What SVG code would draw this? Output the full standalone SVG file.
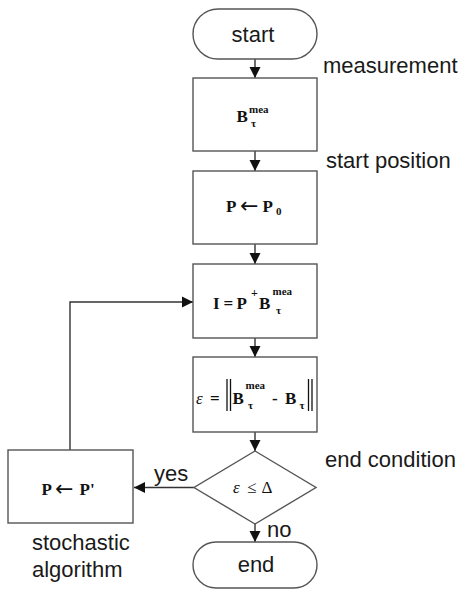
<svg xmlns="http://www.w3.org/2000/svg" width="462" height="590" viewBox="0 0 462 590">
  <style>
    .shape { fill: #ffffff; stroke: #555555; stroke-width: 1.4; }
    .link { fill: none; stroke: #333333; stroke-width: 1.4; }
    .lbl { font-family: "Liberation Sans", Arial, sans-serif; font-size: 22px; fill: #1a1a1a; }
    .math { font-family: "Liberation Serif", "DejaVu Serif", serif; font-weight: bold; font-size: 17px; fill: #111111; }
    .sup { font-size: 11px; }
    .arr { font-family: "DejaVu Sans", sans-serif; font-weight: normal; font-size: 22px; }
    .ital { font-style: italic; font-weight: normal; }
    .bar { stroke: #111111; stroke-width: 1.3; }
  </style>
  <defs>
    <marker id="arrow" markerUnits="userSpaceOnUse" markerWidth="12" markerHeight="12" refX="11" refY="6" orient="auto">
      <path d="M0,0.5 L11,6 L0,11.5 Z" fill="#111111"/>
    </marker>
  </defs>
  <rect x="0" y="0" width="462" height="590" fill="#ffffff"/>

  <!-- connectors -->
  <g id="connectors">
    <line class="link" x1="255" y1="59" x2="255" y2="78" marker-end="url(#arrow)"/>
    <line class="link" x1="255" y1="151" x2="255" y2="171" marker-end="url(#arrow)"/>
    <line class="link" x1="255" y1="244" x2="255" y2="264" marker-end="url(#arrow)"/>
    <line class="link" x1="255" y1="338" x2="255" y2="357" marker-end="url(#arrow)"/>
    <line class="link" x1="255" y1="432" x2="255" y2="451" marker-end="url(#arrow)"/>
    <line class="link" x1="255" y1="524" x2="255" y2="542" marker-end="url(#arrow)"/>
    <line class="link" x1="194" y1="487.5" x2="134" y2="487.5" marker-end="url(#arrow)"/>
    <polyline class="link" points="70,450 70,302 193,302" marker-end="url(#arrow)"/>
    <text class="lbl" x="154" y="481">yes</text>
    <text class="lbl" x="267" y="537">no</text>
  </g>

  <!-- start -->
  <g id="start">
    <rect class="shape" x="193" y="9" width="124" height="50" rx="25" ry="25"/>
    <text class="lbl" x="253" y="42" text-anchor="middle">start</text>
  </g>

  <!-- measurement -->
  <g id="measure">
    <rect class="shape" x="193" y="78" width="124" height="73"/>
    <text class="math"><tspan x="236.5" y="122">B</tspan><tspan class="sup" x="249" y="113">mea</tspan><tspan class="sup" x="251" y="127">τ</tspan></text>
    <text class="lbl" x="323" y="73">measurement</text>
  </g>

  <!-- start position -->
  <g id="init">
    <rect class="shape" x="193" y="171" width="124" height="73"/>
    <text class="math"><tspan x="226" y="212">P</tspan><tspan class="arr" x="240" y="213">←</tspan><tspan x="262.5" y="212">P</tspan><tspan class="sup" x="276" y="215">0</tspan></text>
    <text class="lbl" x="326" y="168">start position</text>
  </g>

  <!-- current solve -->
  <g id="solve">
    <rect class="shape" x="193" y="264" width="124" height="74"/>
    <text class="math"><tspan x="213" y="309">I</tspan><tspan x="223.5" y="309">=</tspan><tspan x="236.5" y="309">P</tspan><tspan x="251" y="297" font-size="12px">+</tspan><tspan x="259" y="309">B</tspan><tspan class="sup" x="272.5" y="295">mea</tspan><tspan class="sup" x="276" y="314">τ</tspan></text>
  </g>

  <!-- error -->
  <g id="error">
    <rect class="shape" x="193" y="357" width="124" height="75"/>
    <text class="math"><tspan class="ital" x="196" y="404">ε</tspan><tspan x="210" y="404">=</tspan><tspan x="232.5" y="404">B</tspan><tspan class="sup" x="245.5" y="389">mea</tspan><tspan class="sup" x="248" y="409">τ</tspan><tspan x="272" y="404">-</tspan><tspan x="285" y="404">B</tspan><tspan class="sup" x="299.5" y="409">τ</tspan></text>
    <line class="bar" x1="227" y1="379" x2="227" y2="411"/>
    <line class="bar" x1="230.5" y1="379" x2="230.5" y2="411"/>
    <line class="bar" x1="308.5" y1="379" x2="308.5" y2="411"/>
    <line class="bar" x1="312" y1="379" x2="312" y2="411"/>
  </g>

  <!-- end condition -->
  <g id="check">
    <polygon class="shape" points="255,451 316,487.5 255,524 194,487.5"/>
    <text class="math" font-size="16px"><tspan class="ital" x="233" y="493">ε</tspan><tspan font-weight="normal" x="247" y="493">≤</tspan><tspan font-weight="normal" x="261.5" y="493">Δ</tspan></text>
    <text class="lbl" x="325" y="467">end condition</text>
  </g>

  <!-- stochastic update -->
  <g id="update">
    <rect class="shape" x="8" y="450" width="125" height="73"/>
    <text class="math"><tspan x="41.5" y="495">P</tspan><tspan class="arr" x="55" y="496">←</tspan><tspan x="79.5" y="495">P'</tspan></text>
    <text class="lbl" x="32" y="550">stochastic</text>
    <text class="lbl" x="32" y="577">algorithm</text>
  </g>

  <!-- end -->
  <g id="end">
    <rect class="shape" x="193" y="542" width="124" height="46" rx="23" ry="23"/>
    <text class="lbl" x="256" y="572" text-anchor="middle">end</text>
  </g>
</svg>
